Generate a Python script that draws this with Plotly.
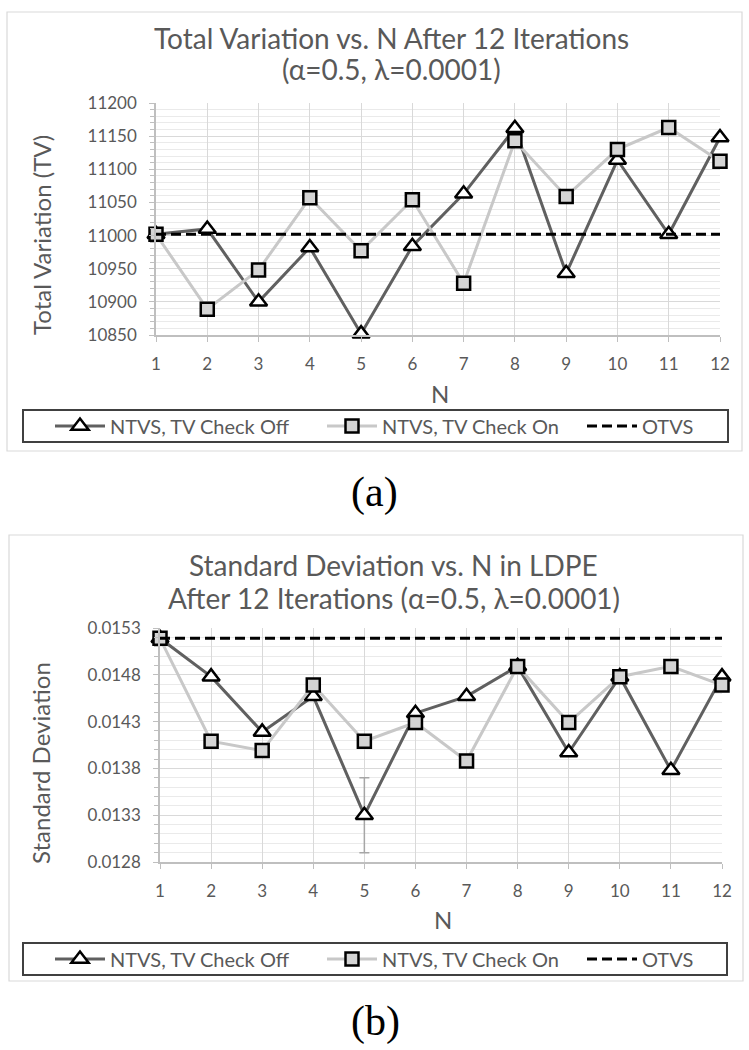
import plotly.graph_objects as go

# ---------------- data ----------------
N = [1, 2, 3, 4, 5, 6, 7, 8, 9, 10, 11, 12]

tv_check_off = [11002, 11010, 10900, 10982, 10852, 10984, 11063, 11162, 10943, 11114, 11002, 11148]
tv_check_on = [11002, 10889, 10948, 11057, 10977, 11054, 10928, 11143, 11059, 11130, 11163, 11112]
tv_otvs = [11002, 11002, 11002, 11002, 11002, 11002, 11002, 11002, 11002, 11002, 11002, 11002]

sd_check_off = [0.01519, 0.01478, 0.01419, 0.01457, 0.01330, 0.01439, 0.01457, 0.01489, 0.01397, 0.01478, 0.01378, 0.01478]
sd_check_on = [0.01519, 0.01409, 0.01399, 0.01469, 0.01409, 0.01429, 0.01388, 0.01489, 0.01429, 0.01478, 0.01489, 0.01469]
sd_otvs = [0.01519, 0.01519, 0.01519, 0.01519, 0.01519, 0.01519, 0.01519, 0.01519, 0.01519, 0.01519, 0.01519, 0.01519]
sd_check_off_err = [None, None, None, None, 0.0004, None, None, None, None, None, None, None]

names = ["NTVS, TV Check Off", "NTVS, TV Check On", "OTVS"]
tv_ticks = [10850, 10900, 10950, 11000, 11050, 11100, 11150, 11200]
sd_ticks = [0.0128, 0.0133, 0.0138, 0.0143, 0.0148, 0.0153]

# ---------------- geometry helpers (pixels -> paper) ----------------
W, H = 749, 1050
def px(x):
    return x / W
def py(y):
    return 1 - y / H

FONT = "Lato"
GRAY_TXT = "#595959"

fig = go.Figure()

def add_series(xa, ya, off, on, otvs, legs, err=None):
    fig.add_trace(go.Scatter(
        x=N, y=off, name=names[0], mode="lines+markers", xaxis=xa, yaxis=ya,
        line=dict(color="#606060", width=3),
        marker=dict(symbol="triangle-up", size=15, color="#ffffff",
                    line=dict(color="#000000", width=2.5)),
        error_y=(dict(type="data", array=err, color="#a6a6a6", thickness=1.5, width=5)
                 if err is not None else None),
        cliponaxis=False, legend=legs[0]))
    fig.add_trace(go.Scatter(
        x=N, y=on, name=names[1], mode="lines+markers", xaxis=xa, yaxis=ya,
        line=dict(color="#c8c8c8", width=3),
        marker=dict(symbol="square", size=13, color="#d4d4d4",
                    line=dict(color="#000000", width=2.5)),
        cliponaxis=False, legend=legs[1]))
    fig.add_trace(go.Scatter(
        x=N, y=otvs, name=names[2], mode="lines", xaxis=xa, yaxis=ya,
        line=dict(color="#000000", width=3, dash="10px,5px"),
        cliponaxis=False, legend=legs[2]))

add_series("x", "y", tv_check_off, tv_check_on, tv_otvs, ["legend", "legend2", "legend3"])
add_series("x2", "y2", sd_check_off, sd_check_on, sd_otvs, ["legend4", "legend5", "legend6"], err=sd_check_off_err)

xaxis_common = dict(
    range=[1, 12], tick0=1, dtick=1, showgrid=True, gridcolor="#d9d9d9", gridwidth=1.3,
    showline=True, linecolor="#bfbfbf", linewidth=1.5, ticks="outside", ticklen=5,
    tickcolor="#bfbfbf", tickfont=dict(family=FONT, size=17, color=GRAY_TXT),
    zeroline=False, ticklabelstandoff=8, fixedrange=True, automargin=False)

yaxis_common = dict(
    showgrid=True, gridcolor="#d9d9d9", gridwidth=1.3, showline=True, linecolor="#bfbfbf",
    linewidth=1.5, ticks="outside", ticklen=5, tickcolor="#bfbfbf",
    tickfont=dict(family=FONT, size=17, color=GRAY_TXT), zeroline=False,
    ticklabelstandoff=9, fixedrange=True, automargin=False)

fig.update_layout(
    xaxis=dict(domain=[px(156), px(720)], anchor="y", **xaxis_common),
    yaxis=dict(domain=[py(335), py(103)], anchor="x", range=[10850, 11200],
               tickvals=tv_ticks, tickformat="d",
               minor=dict(dtick=10, tick0=10850, showgrid=True, gridcolor="#eaeaea", gridwidth=1,
                          ticks="outside", ticklen=4, tickcolor="#bfbfbf"),
               **yaxis_common),
    xaxis2=dict(domain=[px(160), px(722)], anchor="y2", **xaxis_common),
    yaxis2=dict(domain=[py(862), py(628)], anchor="x2", range=[0.0128, 0.0153],
                tickvals=sd_ticks, tickformat=".4f",
                minor=dict(dtick=0.0001, tick0=0.0128, showgrid=True, gridcolor="#eaeaea", gridwidth=1,
                           ticks="outside", ticklen=4, tickcolor="#bfbfbf"),
                **yaxis_common),
)

# legends: one per entry so each sits where the original places it
leg_font = dict(family=FONT, size=20, color=GRAY_TXT)
leg_x = [50, 322, 582]
for i, key in enumerate(["legend", "legend2", "legend3", "legend4", "legend5", "legend6"]):
    yc = 426 if i < 3 else 959
    fig.update_layout(**{key: dict(
        x=px(leg_x[i % 3]), xanchor="left", y=py(yc), yanchor="middle",
        orientation="h", bgcolor="rgba(0,0,0,0)", borderwidth=0,
        font=leg_font, itemwidth=50, itemclick=False, itemdoubleclick=False)})

shapes = [
    dict(type="rect", xref="paper", yref="paper", x0=px(7), x1=px(742), y0=py(451), y1=py(12),
         line=dict(color="#d9d9d9", width=1.2), layer="below"),
    dict(type="rect", xref="paper", yref="paper", x0=px(9), x1=px(743), y0=py(981), y1=py(535),
         line=dict(color="#d9d9d9", width=1.2), layer="below"),
    dict(type="rect", xref="paper", yref="paper", x0=px(23), x1=px(728), y0=py(442), y1=py(410),
         line=dict(color="#404040", width=2)),
    dict(type="rect", xref="paper", yref="paper", x0=px(23), x1=px(727), y0=py(975), y1=py(943),
         line=dict(color="#404040", width=2)),
]

def ann(text, x, y, size, color=GRAY_TXT, family=FONT, angle=0):
    return dict(text=text, x=px(x), y=py(y), xref="paper", yref="paper", showarrow=False,
                xanchor="center", yanchor="middle", textangle=angle,
                font=dict(family=family, size=size, color=color))

annotations = [
    ann("Total Variation vs. N After 12 Iterations", 391, 38, 28),
    ann("(α=0.5, λ=0.0001)", 391, 69, 28),
    ann("Standard Deviation vs. N in LDPE", 393, 565, 28),
    ann("After 12 Iterations (α=0.5, λ=0.0001)", 394, 598, 28),
    ann("Total Variation (TV)", 42, 235, 24, angle=-90),
    ann("Standard Deviation", 40, 763, 24, angle=-90),
    ann("N", 440, 393, 24),
    ann("N", 443, 919, 24),
    ann("(a)", 374, 493, 42, color="#000000", family="Liberation Serif"),
    ann("(b)", 375, 1021, 42, color="#000000", family="Liberation Serif"),
]

fig.update_layout(
    width=W, height=H, autosize=False,
    margin=dict(l=0, r=0, t=0, b=0, pad=0, autoexpand=False),
    paper_bgcolor="#ffffff", plot_bgcolor="#ffffff",
    showlegend=True, shapes=shapes, annotations=annotations,
    font=dict(family=FONT, color=GRAY_TXT),
)

fig.write_html("out.html",
               config={"displayModeBar": False},
               post_script="document.body.style.margin='0';document.body.style.overflow='hidden';")
